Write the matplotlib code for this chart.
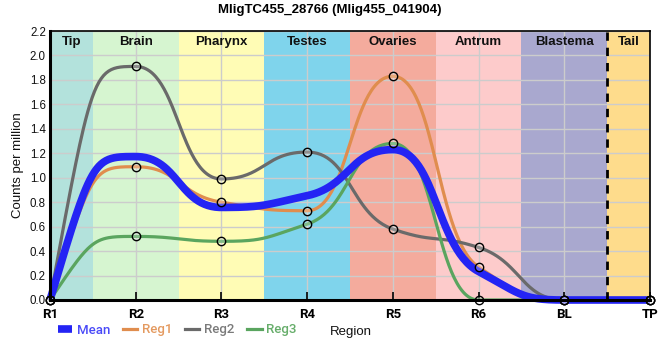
import numpy as np
import matplotlib
matplotlib.use("Agg")
import matplotlib.pyplot as plt
from matplotlib.lines import Line2D

plt.rcParams['font.family'] = ['Liberation Sans', 'DejaVu Sans']

title = "MligTC455_28766 (Mlig455_041904)"
regions = ["R1", "R2", "R3", "R4", "R5", "R6", "BL", "TP"]
reg1 = [0.0, 1.09, 0.80, 0.73, 1.83, 0.27, 0.0, 0.0]
reg2 = [0.0, 1.91, 0.99, 1.21, 0.58, 0.43, 0.0, 0.0]
reg3 = [0.0, 0.52, 0.48, 0.62, 1.28, 0.0, 0.0, 0.0]
mean = [round((a + b + c) / 3, 3) for a, b, c in zip(reg1, reg2, reg3)]

band_names = ["Tip", "Brain", "Pharynx", "Testes", "Ovaries", "Antrum", "Blastema", "Tail"]
band_edges = [0, 0.5, 1.5, 2.5, 3.5, 4.5, 5.5, 6.5, 7]
band_colors = ["#b3e2dc", "#d6f5d0", "#fffcb5", "#7fd4ec", "#f4ab9d",
               "#fdcbcb", "#a9a8cf", "#fedc8c"]


def smooth_curve(xs, ys, k=0.5, n=60):
    """Piecewise cubic Bezier through the points, flat at local extrema."""
    xs = np.asarray(xs, float); ys = np.asarray(ys, float)
    N = len(xs)
    d = np.diff(ys) / np.diff(xs)
    m = np.zeros(N)
    for i in range(1, N - 1):
        if d[i - 1] * d[i] > 0:
            m[i] = 2.0 / (1.0 / d[i - 1] + 1.0 / d[i])
    m[0] = 2 * d[0] - m[1] if d[0] != 0 else 0.0
    m[-1] = 2 * d[-1] - m[-2] if d[-1] != 0 else 0.0
    t = np.linspace(0, 1, n)[1:]
    outx, outy = [xs[0]], [ys[0]]
    for i in range(N - 1):
        h = xs[i + 1] - xs[i]
        p0 = np.array([xs[i], ys[i]])
        p1 = np.array([xs[i] + k * h, ys[i] + k * h * m[i]])
        p2 = np.array([xs[i + 1] - k * h, ys[i + 1] - k * h * m[i + 1]])
        p3 = np.array([xs[i + 1], ys[i + 1]])
        pts = ((1 - t)[:, None] ** 3 * p0 + 3 * ((1 - t) ** 2 * t)[:, None] * p1
               + 3 * ((1 - t) * t ** 2)[:, None] * p2 + (t ** 3)[:, None] * p3)
        outx.extend(pts[:, 0]); outy.extend(pts[:, 1])
    return np.array(outx), np.array(outy)


fig = plt.figure(figsize=(6.6, 3.6), dpi=100)
ax = fig.add_axes([50 / 660, 60 / 360, 600 / 660, 269 / 360])
ax.set_xlim(0, 7)
ax.set_ylim(0, 2.2)

for i, (name, col) in enumerate(zip(band_names, band_colors)):
    ax.axvspan(band_edges[i], band_edges[i + 1], color=col, lw=0, zorder=0)
    ax.text((band_edges[i] + band_edges[i + 1]) / 2, 0.958, name,
            transform=ax.get_xaxis_transform(), ha='center', va='center',
            fontsize=9.5, fontweight='bold', color='#111111', zorder=5)

ax.set_xticks(range(len(regions)))
ax.set_xticklabels(regions)
ax.set_yticks(np.arange(0, 2.21, 0.2))
ax.yaxis.set_major_formatter(matplotlib.ticker.FormatStrFormatter('%.1f'))
ax.grid(True, color='#cccccc', lw=1, zorder=1)
ax.set_axisbelow(False)
for gl in ax.get_xgridlines() + ax.get_ygridlines():
    gl.set_zorder(1)

ax.axvline(6.5, color='black', lw=2, ls=(0, (3, 2.5)), zorder=6)

xs = np.arange(len(regions))
mean_col = '#2424f4'
series = [(reg1, '#e08d4e', 'Reg1'), (reg2, '#6a6a6a', 'Reg2'), (reg3, '#5aa55f', 'Reg3')]
for vals, col, lab in series:
    sx, sy = smooth_curve(xs, vals)
    ax.plot(sx, sy, color=col, lw=2.3, zorder=3, clip_on=False, solid_capstyle='round')
mx, my = smooth_curve(xs, mean)
ax.plot(mx, my, color=mean_col, lw=5.5, zorder=4, clip_on=False, solid_capstyle='butt')
for vals, col, lab in series:
    ax.plot(xs, vals, ls='none', marker='o', ms=6, mfc=(1, 1, 1, 0.25),
            mec='black', mew=1.0, zorder=7, clip_on=False)

for s in ['left', 'bottom']:
    ax.spines[s].set_linewidth(2.2)
for s in ['top', 'right']:
    ax.spines[s].set_linewidth(1.2)
for s in ax.spines.values():
    s.set_zorder(8)

ax.tick_params(axis='y', length=0, labelsize=8.3, pad=3, colors='#111111')
ax.tick_params(axis='x', length=6, width=1.2, direction='in', labelsize=9.5, pad=6,
               colors='black')
for lbl in ax.get_xticklabels():
    lbl.set_fontweight('bold')
    lbl.set_fontfamily(['Roboto', 'DejaVu Sans'])

ax.set_ylabel("Counts per million", fontsize=9.5, labelpad=4, color='#111111')
fig.text(0.5, 0.972, title, ha='center', va='center', fontsize=9.5, fontweight='bold')
fig.text(351 / 660, 1 - 332 / 360, "Region", ha='center', va='center', fontsize=9.5,
         color='#111111')

handles = [Line2D([], [], color=mean_col, lw=5.5, solid_capstyle='butt'),
           Line2D([], [], color='#e08d4e', lw=2.3),
           Line2D([], [], color='#6a6a6a', lw=2.3),
           Line2D([], [], color='#5aa55f', lw=2.3)]
leg = fig.legend(handles, ['Mean', 'Reg1', 'Reg2', 'Reg3'], loc='center left',
                 bbox_to_anchor=(46 / 660, 1 - 330 / 360), ncol=4, frameon=False,
                 handlelength=1.1, handletextpad=0.35, columnspacing=0.95,
                 labelcolor='linecolor',
                 prop={'family': ['Roboto', 'DejaVu Sans'], 'weight': 'medium', 'size': 9.5})
for txt, c in zip(leg.get_texts(), ['#4a4af8', '#e49a60', '#7a7a7a', '#66ad6a']):
    txt.set_color(c)

fig.savefig("out.png", dpi=100)
